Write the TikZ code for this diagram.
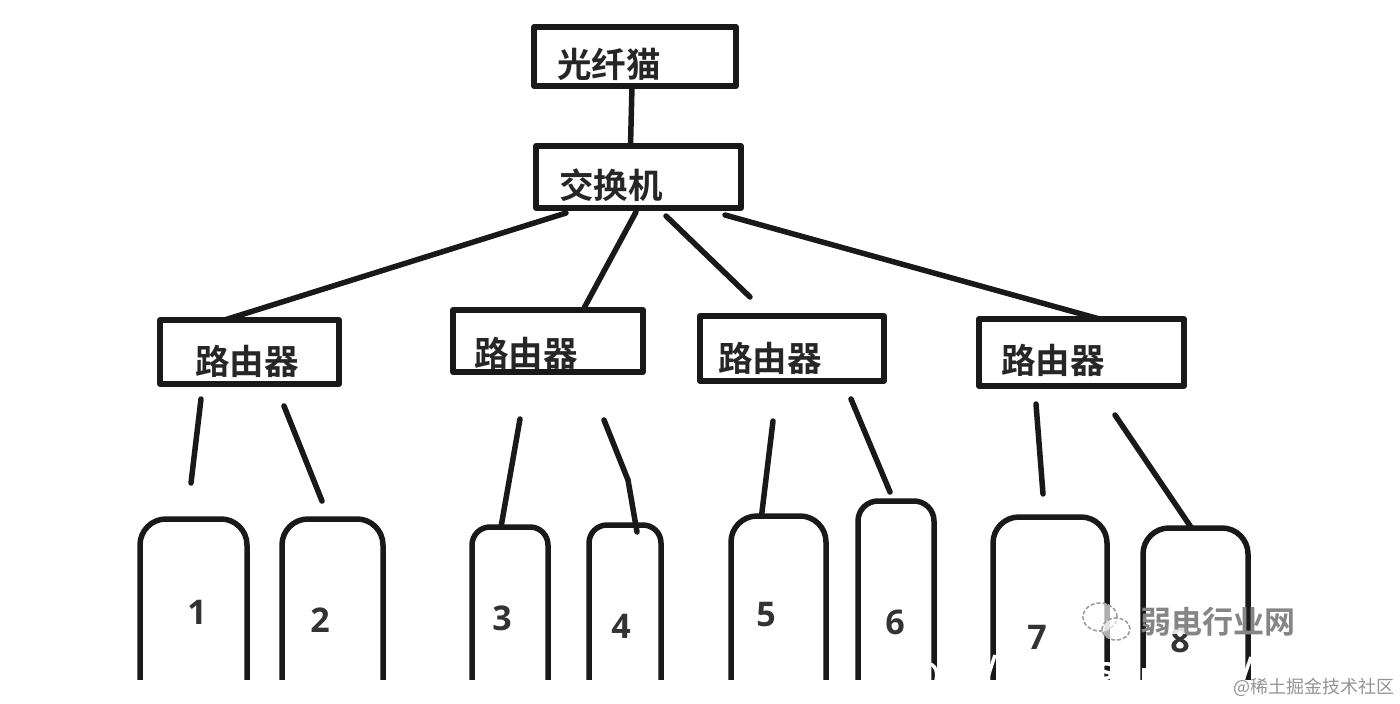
\documentclass[tikz,border=0pt]{standalone}
\usepackage{fontspec}
\setmainfont{Noto Sans CJK SC}
\newfontfamily\cjkb{Noto Sans CJK SC Bold}
\newfontfamily\numf{Open Sans}[BoldFont={Open Sans Bold}]
\begin{document}
\begin{tikzpicture}[x=1pt,y=-1pt,
  ink/.style={draw=black!90,line width=5.5pt,line cap=round,line join=round},
  boxnode/.style={ink,rectangle,inner sep=0pt,outer sep=0pt,fill=white},
  devnode/.style={ink,rectangle,rounded corners=26pt,inner sep=0pt,outer sep=0pt,fill=white},
  cnlabel/.style={inner sep=0pt,font=\cjkb\fontsize{34.5}{34}\selectfont,text=black!85},
  numlabel/.style={inner sep=0pt,font=\numf\bfseries\fontsize{34}{34}\selectfont,text=black!80},
  wire/.style={ink},
  mask/.style={draw=white,line width=3.5pt,line cap=butt}]
\useasboundingbox (0,0) rectangle (1400,704);
\fill[white] (0,0) rectangle (1400,704);
% boxes
\node[boxnode,minimum width=202pt,minimum height=59pt] (modem) at (635,56.5) {};
\node[boxnode,minimum width=205pt,minimum height=62pt] (switch) at (638.5,177) {};
\node[boxnode,minimum width=179pt,minimum height=64pt] (r1) at (249.5,352) {};
\node[boxnode,minimum width=190pt,minimum height=62pt] (r2) at (548,341) {};
\node[boxnode,minimum width=184pt,minimum height=65pt] (r3) at (792,348.5) {};
\node[boxnode,minimum width=205pt,minimum height=67pt] (r4) at (1081.5,352.5) {};
\node[cnlabel] (tm) at (609,64) {光纤猫};
\node[cnlabel] (ts) at (611,185) {交换机};
\node[cnlabel] (t1) at (247,361) {路由器};
\node[cnlabel] (t2) at (526,353) {路由器};
\node[cnlabel] (t3) at (770,358) {路由器};
\node[cnlabel] (t4) at (1053,360) {路由器};
% devices (run past the crop line at y=680)
\node[devnode,minimum width=107pt,minimum height=300pt] (d1) at (193.5,669) {};
\node[devnode,minimum width=101pt,minimum height=300pt] (d2) at (332.5,669) {};
\node[devnode,rounded corners=18pt,minimum width=76pt,minimum height=300pt] (d3) at (510,677) {};
\node[devnode,rounded corners=18pt,minimum width=72pt,minimum height=300pt] (d4) at (625,675) {};
\node[devnode,minimum width=95pt,minimum height=300pt] (d5) at (778.5,666) {};
\node[devnode,rounded corners=20pt,minimum width=76pt,minimum height=300pt] (d6) at (896,651) {};
\node[devnode,minimum width=114pt,minimum height=300pt] (d7) at (1050,667) {};
\node[devnode,minimum width=105pt,minimum height=300pt] (d8) at (1195.5,678) {};
\node[numlabel] (n1) at (197,612) {1};
\node[numlabel] (n2) at (320,620) {2};
\node[numlabel] (n3) at (502,618) {3};
\node[numlabel] (n4) at (621,626) {4};
\node[numlabel] (n5) at (766,615) {5};
\node[numlabel] (n6) at (895,622) {6};
\node[numlabel] (n7) at (1037,637) {7};
\node[numlabel] (n8) at (1180,640) {8};
% free ends
\coordinate (s1) at (566,213); \coordinate (s2) at (636,212);
\coordinate (s3) at (666,216); \coordinate (s4) at (725,215);
\coordinate (e3) at (750,297);
\coordinate (a1) at (201,399); \coordinate (b1) at (191,483);
\coordinate (a2) at (284,406); \coordinate (b2) at (322,501);
\coordinate (a3) at (520,419);
\coordinate (a4) at (604,420); \coordinate (m4) at (628,480);
\coordinate (a5) at (773,421);
\coordinate (a6) at (851,399);
\coordinate (a7) at (1036,404); \coordinate (b7) at (1043,494);
\coordinate (a8) at (1115,415);
% connectors
\draw[wire] ([xshift=-3pt]modem.south) -- ([xshift=-8pt]switch.north);
\draw[wire] (s1) -- ([xshift=-25pt]r1.north);
\draw[wire] (s2) -- ([xshift=35pt]r2.north);
\draw[wire] (s3) -- (e3);
\draw[wire] (s4) -- ([xshift=18pt]r4.north);
\draw[wire] (a1) -- (b1);
\draw[wire] (a2) -- (b2);
\draw[wire] (a3) -- ([xshift=-9pt]d3.north);
\draw[wire] (a4) -- (m4) -- ([xshift=12pt,yshift=-7pt]d4.north);
\draw[wire] (a5) -- ([xshift=-17pt]d5.north);
\draw[wire] (a6) -- ([xshift=-6pt,yshift=9pt]d6.north);
\draw[wire] (a7) -- (b7);
\draw[wire] (a8) -- ([xshift=-4pt]d8.north);
% crop at bottom
\fill[white] (0,680) rectangle (1400,704);
% white remnants of a cropped line of text
\draw[mask] (926,663) .. controls (936,664) and (938,672) .. (936,680);
\draw[mask] (987,680) -- (995,655);
\draw[mask] (1112,665) .. controls (1100,660) and (1098,671) .. (1106,672) .. controls (1114,673) and (1112,680) .. (1100,678);
\draw[mask] (1144,668) -- (1144,680);
\draw[mask] (1243,680) -- (1251,657);
% faded watermark
\fill[white,opacity=.85] (1160,604) rectangle (1200,634);
\begin{scope}[draw=black!38,fill=white,fill opacity=.65,line width=1.6pt]
\filldraw[dash pattern=on 4pt off 2pt] (1100,617) ellipse[x radius=17pt,y radius=14pt];
\filldraw[dash pattern=on 4pt off 2pt] (1116,629) ellipse[x radius=14pt,y radius=11pt];
\end{scope}
\node[inner sep=0pt,text=black!48,font=\cjkb\fontsize{31}{31}\selectfont] (wm) at (1218,622) {弱电行业网};
\node[inner sep=0pt,text=black!42,font=\fontsize{18}{20}\selectfont] (site) at (1314,687) {@稀土掘金技术社区};
\end{tikzpicture}
\end{document}
